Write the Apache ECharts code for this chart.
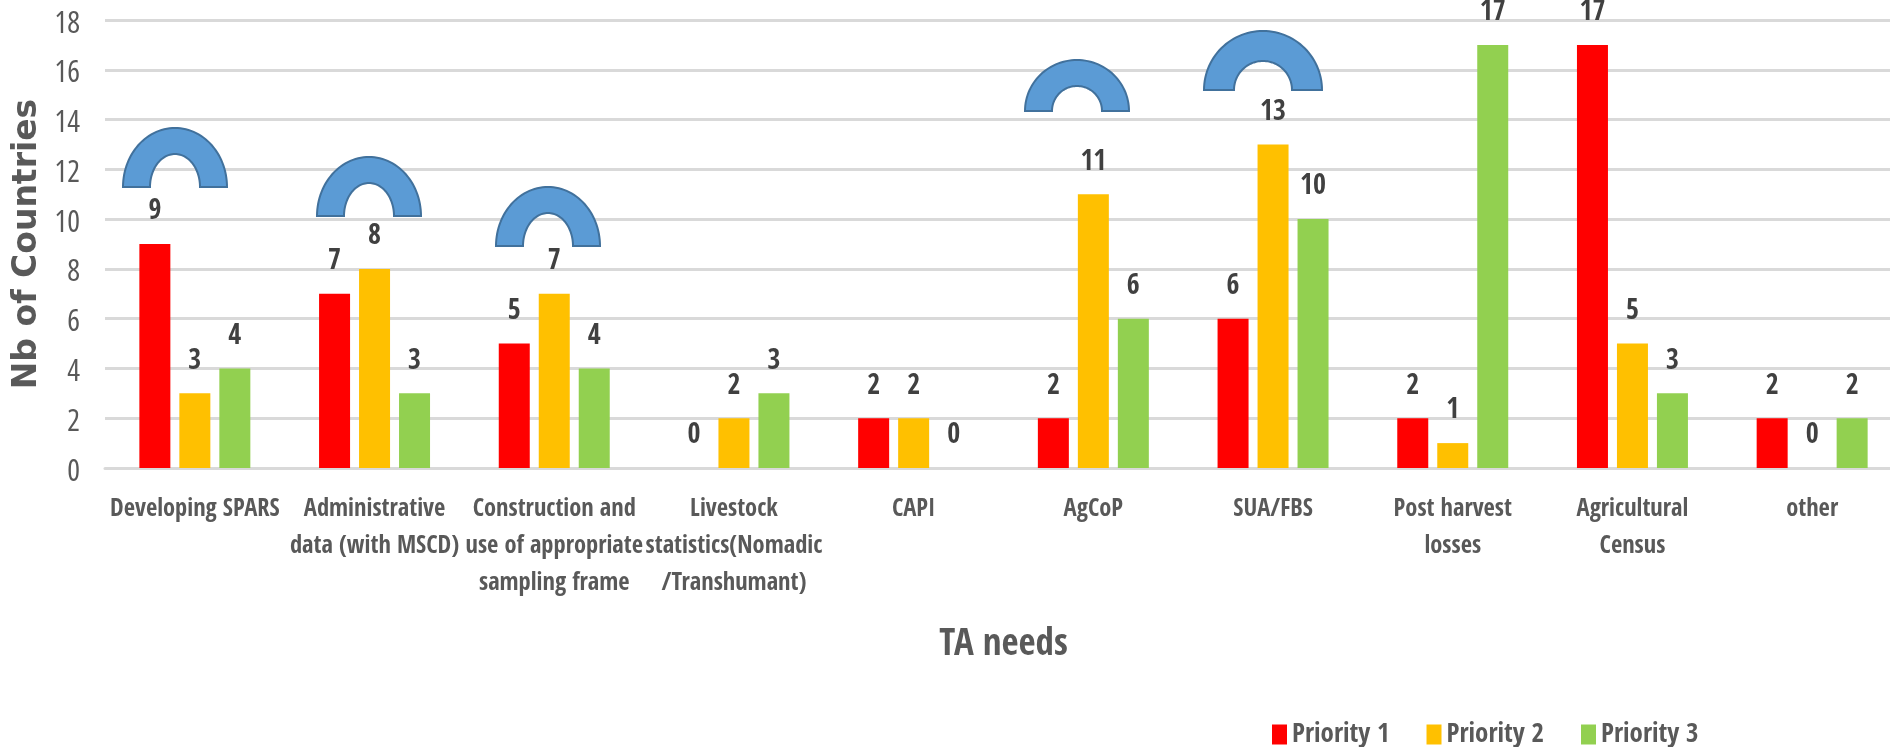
<!DOCTYPE html>
<html>
<head>
<meta charset="utf-8">
<style>
  html, body { margin: 0; padding: 0; background: #fff; }
  #chart { width: 1890px; height: 747px; }
</style>
<script src="https://cdn.jsdelivr.net/npm/echarts@6/dist/echarts.min.js"></script>
</head>
<body>
<div id="chart"></div>
<script>
const categories = [
  'Developing SPARS',
  'Administrative\ndata (with MSCD)',
  'Construction and\nuse of appropriate\nsampling frame',
  'Livestock\nstatistics(Nomadic\n/Transhumant)',
  'CAPI',
  'AgCoP',
  'SUA/FBS',
  'Post harvest\nlosses',
  'Agricultural\nCensus',
  'other'
]
const priority1 = [9, 7, 5, 0, 2, 2, 6, 2, 17, 2]
const priority2 = [3, 8, 7, 2, 2, 11, 13, 1, 5, 0]
const priority3 = [4, 3, 4, 3, 0, 6, 10, 17, 3, 2]

const condensed = '"Open Sans Condensed", "Open Sans", sans-serif'

// blue arch callouts sitting above the highlighted groups
function arch(cx, base, rx, ry, irx, iry) {
  const points = []
  for (let i = 0; i <= 60; i++) {
    const a = Math.PI * i / 60
    points.push([cx - rx * Math.cos(a), base - ry * Math.sin(a)])
  }
  for (let i = 60; i >= 0; i--) {
    const a = Math.PI * i / 60
    points.push([cx - irx * Math.cos(a), base - iry * Math.sin(a)])
  }
  return {
    type: 'polygon',
    silent: true,
    z: 10,
    shape: { points: points },
    style: { fill: '#5B9BD5', stroke: '#41719C', lineWidth: 2 }
  }
}

function barSeries(name, values, color) {
  return {
    name: name,
    type: 'bar',
    data: values,
    barWidth: 31,
    barGap: '29%',
    itemStyle: { color: color },
    label: {
      show: true,
      position: 'top',
      distance: 18,
      color: '#404040',
      fontFamily: condensed,
      fontWeight: 'bold',
      fontSize: 28
    }
  }
}

const chart = echarts.init(document.getElementById('chart'))
chart.setOption({
  animation: false,
  backgroundColor: '#fff',
  grid: { left: 105, top: 20, width: 1797, height: 448, outerBoundsMode: 'none' },
  legend: {
    left: 1267,
    top: 716,
    itemWidth: 15,
    itemHeight: 20,
    itemGap: 37,
    icon: 'rect',
    textStyle: { color: '#595959', fontFamily: condensed, fontWeight: 'bold', fontSize: 27 },
    data: ['Priority 1', 'Priority 2', 'Priority 3']
  },
  xAxis: {
    type: 'category',
    data: categories,
    name: 'TA needs',
    nameLocation: 'middle',
    nameGap: 159,
    nameTextStyle: { color: '#595959', fontFamily: condensed, fontWeight: 'bold', fontSize: 37 },
    axisLine: { lineStyle: { color: '#d9d9d9', width: 3 } },
    axisTick: { show: false },
    axisLabel: {
      interval: 0,
      margin: 23,
      color: '#595959',
      fontFamily: condensed,
      fontWeight: 'bold',
      fontSize: 24.5,
      lineHeight: 37
    }
  },
  yAxis: {
    type: 'value',
    min: 0,
    max: 18,
    interval: 2,
    name: 'Nb of Countries',
    nameLocation: 'middle',
    nameGap: 55,
    nameTextStyle: { color: '#595959', fontFamily: 'DejaVu Sans', fontWeight: 'bold', fontSize: 33 },
    axisLine: { show: false },
    axisTick: { show: false },
    axisLabel: {
      margin: 25,
      formatter: '{tick|{value}}',
      rich: {
        tick: {
          color: '#595959',
          fontFamily: '"Open Sans", sans-serif',
          fontWeight: 'condensed',
          fontSize: 30,
          padding: [8, 0, 0, 0]
        }
      }
    },
    splitLine: { lineStyle: { color: '#d9d9d9', width: 3 } }
  },
  series: [
    barSeries('Priority 1', priority1, '#FF0000'),
    barSeries('Priority 2', priority2, '#FFC000'),
    barSeries('Priority 3', priority3, '#92D050')
  ],
  graphic: [
    arch(175, 187, 52, 59, 25, 33),
    arch(369, 216, 52, 59, 25, 33),
    arch(548, 246, 52, 59, 25, 33),
    arch(1077, 111, 52, 51, 25, 25),
    arch(1263, 90, 59, 59, 29, 29)
  ]
})
</script>
</body>
</html>
